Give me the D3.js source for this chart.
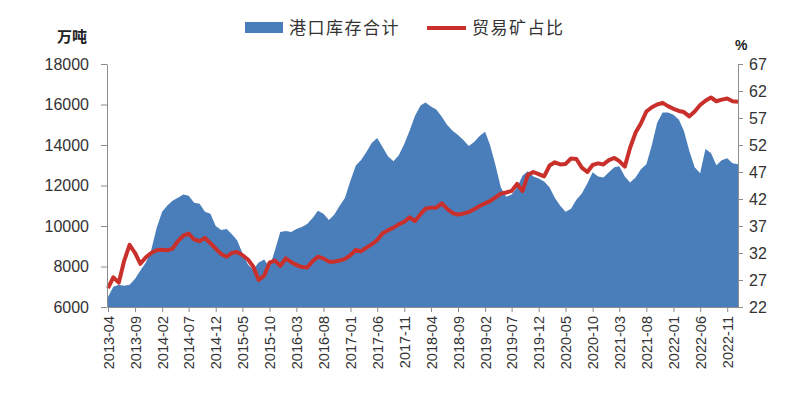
<!DOCTYPE html>
<html><head><meta charset="utf-8">
<script src="https://cdn.jsdelivr.net/npm/d3@7"></script>
<style>body{margin:0;background:#fff}</style>
</head><body><svg id="c" width="800" height="398"></svg>
<script>
const startYear = 2013, startMonthIndex = 3; // 2013-04
const seriesNames = ["港口库存合计", "贸易矿占比"];
const inventory = [6500,7000,7100,7050,7100,7400,7800,8200,8800,9900,
10700,11000,11250,11400,11550,11500,11150,11100,10700,10600,
10000,9800,9850,9600,9300,8670,8100,7850,8200,8350,
7950,8800,9700,9750,9700,9850,9950,10100,10400,10750,
10600,10300,10550,11000,11400,12250,13000,13250,13650,14100,
14350,13900,13450,13200,13500,14050,14700,15450,15950,16100,
15900,15750,15400,15000,14700,14500,14250,13950,14150,14450,
14650,14000,13000,11900,11450,11550,11900,12500,12700,12450,
12350,12200,11900,11400,11000,10700,10850,11300,11600,12100,
12650,12450,12400,12650,12900,12950,12450,12150,12400,12800,
13050,14000,15100,15600,15600,15500,15250,14700,13700,12900,
12600,13800,13600,13000,13250,13350,13100,13050];
const ratio = [25.5,27.5,26.5,30.5,33.5,32.0,30.0,31.2,32.0,32.5,
32.6,32.5,32.8,34.2,35.2,35.6,34.5,34.2,34.8,33.8,
32.8,31.8,31.3,32.0,32.2,31.6,30.8,29.5,27.0,27.8,
30.2,30.6,29.6,31.0,30.3,29.8,29.4,29.3,30.5,31.3,
31.0,30.4,30.4,30.6,30.9,31.6,32.6,32.3,33.0,33.6,
34.4,35.6,36.2,36.7,37.3,37.8,38.6,37.9,39.2,40.2,
40.4,40.4,41.2,40.2,39.4,39.1,39.3,39.6,40.1,40.7,
41.2,41.6,42.3,43.0,43.2,43.5,44.8,43.5,46.5,47.0,
46.6,46.2,48.2,48.8,48.4,48.5,49.5,49.4,47.8,47.0,
48.3,48.6,48.4,49.2,49.6,49.0,48.0,51.5,54.3,56.0,
58.2,59.0,59.5,59.8,59.2,58.7,58.3,58.1,57.3,58.2,
59.4,60.2,60.8,60.1,60.4,60.6,60.1,60.0];
const tickLabels = ["2013-04","2013-09","2014-02","2014-07","2014-12","2015-05","2015-10","2016-03",
"2016-08","2017-01","2017-06","2017-11","2018-04","2018-09","2019-02","2019-07","2019-12","2020-05",
"2020-10","2021-03","2021-08","2022-01","2022-06","2022-11"];
const leftTicks = [6000,8000,10000,12000,14000,16000,18000];
const rightTicks = [22,27,32,37,42,47,52,57,62,67];

const blue = "#4a7ebb", red = "#c9302c", axisCol = "#8c8c8c", textCol = "#333";
const svg = d3.select("#c");
const start = new Date(startYear, startMonthIndex, 1);
const dates = inventory.map((_, i) => d3.timeMonth.offset(start, i));
const parseLabel = d3.timeParse("%Y-%m");
const tickDates = tickLabels.map(parseLabel);

const x = d3.scaleTime().domain([start, dates[dates.length - 1]]).range([108, 738]);
const yL = d3.scaleLinear().domain([6000, 18000]).range([307, 64]);
const yR = d3.scaleLinear().domain([22, 67]).range([307, 64]);

const invData = dates.map((d, i) => ({date: d, v: inventory[i]}));
const ratioData = dates.map((d, i) => ({date: d, v: ratio[i]}));

svg.append("path").datum(invData)
  .attr("fill", blue)
  .attr("d", d3.area().x(d => x(d.date)).y0(yL(6000)).y1(d => yL(d.v)));

svg.append("path").datum(ratioData)
  .attr("fill", "none").attr("stroke", red).attr("stroke-width", 4)
  .attr("stroke-linejoin", "round")
  .attr("d", d3.line().x(d => x(d.date)).y(d => yR(d.v)));

function styleAxis(g, fs) {
  g.select(".domain").attr("stroke", axisCol);
  g.selectAll(".tick line").attr("stroke", axisCol);
  g.selectAll("text").attr("fill", textCol).attr("font-family", "Liberation Sans, Arial, sans-serif").attr("font-size", fs);
}

svg.append("g").attr("transform", "translate(107,0)")
  .call(d3.axisLeft(yL).tickValues(leftTicks).tickSize(6).tickSizeOuter(0).tickPadding(12).tickFormat(d3.format("d")))
  .call(g => styleAxis(g, "16px"));

svg.append("g").attr("transform", "translate(738,0)")
  .call(d3.axisRight(yR).tickValues(rightTicks).tickSize(5).tickSizeOuter(0).tickPadding(6).tickFormat(d3.format("d")))
  .call(g => styleAxis(g, "16px"));

svg.append("g").attr("transform", "translate(0,307)")
  .call(d3.axisBottom(x).tickValues(tickDates).tickSize(5).tickSizeOuter(0).tickFormat((d, i) => tickLabels[i]))
  .call(g => styleAxis(g, "14.5px"))
  .call(g => g.selectAll(".tick text")
    .attr("transform", "rotate(-90)")
    .attr("text-anchor", "end")
    .attr("x", -9).attr("y", 0).attr("dy", "0.35em"));

// unit labels
svg.append("text").attr("x", 57).attr("y", 42).text("万吨")
  .attr("font-family", "Noto Sans CJK SC").attr("font-weight", "bold").attr("font-size", 15).attr("fill", "#222");
svg.append("text").attr("x", 735).attr("y", 50).text("%")
  .attr("font-family", "Liberation Sans, Arial").attr("font-weight", "bold").attr("font-size", 14).attr("fill", "#222");

// legend
const lg = svg.append("g").attr("font-family", "Noto Sans CJK SC").attr("font-size", 17).attr("fill", "#333");
lg.append("rect").attr("x", 245).attr("y", 22).attr("width", 38).attr("height", 11).attr("fill", blue);
lg.append("text").attr("x", 289).attr("y", 34).attr("letter-spacing", 1.5).text(seriesNames[0]);
lg.append("line").attr("x1", 427).attr("x2", 466).attr("y1", 28).attr("y2", 28).attr("stroke", red).attr("stroke-width", 4);
lg.append("text").attr("x", 472).attr("y", 34).attr("letter-spacing", 1.5).text(seriesNames[1]);
</script></body></html>
